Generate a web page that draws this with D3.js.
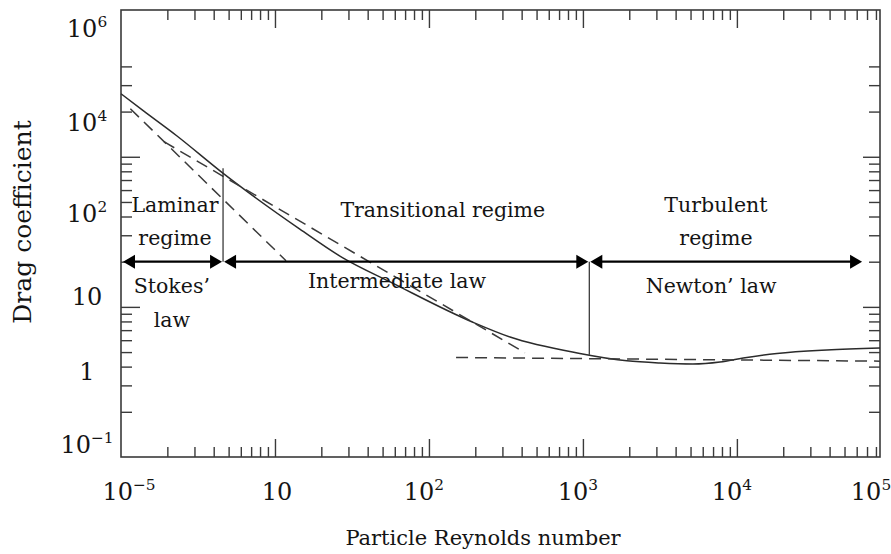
<!DOCTYPE html>
<html>
<head>
<meta charset="utf-8">
<script src="https://cdn.jsdelivr.net/npm/d3@7"></script>
<style>
  html, body { margin: 0; padding: 0; background: #fff; }
  svg { display: block; }
  text { font-family: "DejaVu Serif", serif; fill: #141414; }
</style>
</head>
<body>
<svg id="chart" width="891" height="554"></svg>
<script>
// Drag coefficient of a sphere against particle Reynolds number (log–log)

// Measured drag curve
const curveRe = [1, 1.4, 2.3, 4.5, 14.5, 27.6, 58, 193, 336, 955, 1930, 3160, 5180, 7770, 11000, 18200, 38400, 85000];
const curveCd = [26.3, 20.2, 13.8, 7.9, 3.3, 2.12, 1.44, 0.79, 0.63, 0.49, 0.437, 0.423, 0.417, 0.43, 0.457, 0.49, 0.517, 0.533];

// Asymptotic laws (dashed)
const stokesRe = [1.15, 11.8];
const stokesCd = [20.9, 2.03];
const intermediateRe = [1.9, 420];
const intermediateCd = [12.6, 0.495];
const newtonRe = [150, 85000];
const newtonCd = [0.46, 0.435];

// Regime limits and the arrows between them
const regimeBounds = [1, 4.6, 1100, 66000];
const arrowCd = 2.0;
const dividerTopCd = [8.4, 2.0];
const dividerBottomCd = [2.0, 0.48];

// Regime names (above the arrows) and law names (below)
const regimeNames = [["Laminar", "regime"], ["Transitional regime"], ["Turbulent", "regime"]];
const regimeNameRe = [2.24, 123, 7310];
const lawNames = [["Stokes\u2019", "law"], ["Intermediate law"], ["Newton\u2019 law"]];
const lawNameRe = [2.14, 62, 6800];

// Axis tick labels
const xLabelBase = ["10", "10", "10", "10", "10", "10"];
const xLabelExp = ["\u22125", "", "2", "3", "4", "5"];
const xLabelAt = [1, 10, 100, 1000, 10000, 85000];
const yLabelBase = ["10", "10", "10", "10", "1", "10"];
const yLabelExp = ["6", "4", "2", "", "", "\u22121"];
const yLabelAt = [72, 17, 4.2, 1.18, 0.374, 0.122];

const xMajor = [10, 100, 1000, 10000];
const yMajor = [1, 10];
const yMinor = [0.2, 0.3, 0.4, 0.5, 0.6, 0.7, 0.8, 0.9, 2, 3, 4, 5, 6, 7, 8, 9, 20, 30, 40];

const svg = d3.select("#chart");
const L = 121, R = 880, T = 10, B = 457;

const x = d3.scaleLog().domain([1, 85000]).range([L, R]);
const y = d3.scaleLog().domain([0.1, 95]).range([B, T]);

const xMinor = [];
for (let d = 1; d <= 10000; d *= 10) {
  for (let k = 2; k <= 9; k++) if (k * d <= 85000) xMinor.push(k * d);
}

// Inward tick marks on all four edges
function ticks(axis, values, size, tx, ty) {
  const g = svg.append("g").attr("transform", `translate(${tx},${ty})`)
    .call(axis.tickValues(values).tickSize(size).tickFormat(""));
  g.select(".domain").remove();
  g.selectAll(".tick line").attr("stroke", "#3a3a3a").attr("stroke-width", 1.4);
}
ticks(d3.axisTop(x), xMinor, 10, 0, B);
ticks(d3.axisTop(x), xMajor, 18, 0, B);
ticks(d3.axisBottom(x), xMinor, 10, 0, T);
ticks(d3.axisBottom(x), xMajor, 18, 0, T);
ticks(d3.axisRight(y), yMinor, 11, L, 0);
ticks(d3.axisRight(y), yMajor, 19, L, 0);
ticks(d3.axisLeft(y), yMinor, 11, R, 0);
ticks(d3.axisLeft(y), yMajor, 17, R, 0);

// Frame
svg.append("rect")
  .attr("x", L).attr("y", T).attr("width", R - L).attr("height", B - T)
  .attr("fill", "none").attr("stroke", "#3a3a3a").attr("stroke-width", 1.6);

// Tick labels with superscript exponents
const tickSize = 24;
function powerLabel(sel, base, exp, size) {
  sel.append("tspan").text(base);
  if (exp) {
    sel.append("tspan").attr("dy", -size * 0.42).attr("font-size", size * 0.64).text(exp);
  }
}
xLabelAt.forEach((v, i) => {
  let dx = xLabelExp[i] ? -5 : 2;
  if (i === 0) dx = 8;
  if (i === xLabelAt.length - 1) dx = -9;
  const t = svg.append("text")
    .attr("x", x(v) + dx).attr("y", 500)
    .attr("text-anchor", "middle").attr("font-size", tickSize);
  powerLabel(t, xLabelBase[i], xLabelExp[i], tickSize);
});
yLabelAt.forEach((v, i) => {
  const t = svg.append("text")
    .attr("x", 87).attr("y", y(v) + 9)
    .attr("text-anchor", "middle").attr("font-size", tickSize);
  powerLabel(t, yLabelBase[i], yLabelExp[i], tickSize);
});

// Axis titles
svg.append("text")
  .attr("x", 483).attr("y", 545)
  .attr("text-anchor", "middle").attr("font-size", 21)
  .text("Particle Reynolds number");
svg.append("text")
  .attr("transform", "translate(31,222) rotate(-90)")
  .attr("text-anchor", "middle").attr("font-size", 25)
  .text("Drag coefficient");

// Curves
const zip = (a, b) => a.map((v, i) => [v, b[i]]);

svg.append("path")
  .datum(zip(curveRe, curveCd))
  .attr("d", d3.line().x(d => x(d[0])).y(d => y(d[1])).curve(d3.curveMonotoneX))
  .attr("fill", "none").attr("stroke", "#2b2b2b").attr("stroke-width", 1.5);

const straight = d3.line().x(d => x(d[0])).y(d => y(d[1]));
[[stokesRe, stokesCd], [intermediateRe, intermediateCd], [newtonRe, newtonCd]].forEach(([re, cd]) => {
  svg.append("path")
    .datum(zip(re, cd))
    .attr("d", straight)
    .attr("fill", "none").attr("stroke", "#3a3a3a").attr("stroke-width", 1.5)
    .attr("stroke-dasharray", "12,7");
});

// Regime dividers
[1, 2].forEach((b, i) => {
  svg.append("line")
    .attr("x1", x(regimeBounds[b])).attr("x2", x(regimeBounds[b]))
    .attr("y1", y(dividerTopCd[i])).attr("y2", y(dividerBottomCd[i]))
    .attr("stroke", "#2b2b2b").attr("stroke-width", 1.2);
});

// Double-headed regime arrows
const ay = y(arrowCd);
const headLen = 12, headHalf = 7;
for (let i = 0; i < regimeBounds.length - 1; i++) {
  const x0 = x(regimeBounds[i]) + (i === 0 ? 2 : 1);
  const x1 = x(regimeBounds[i + 1]) - 1;
  svg.append("line")
    .attr("x1", x0 + headLen - 2).attr("x2", x1 - headLen + 2)
    .attr("y1", ay).attr("y2", ay)
    .attr("stroke", "#000").attr("stroke-width", 2.2);
  svg.append("path")
    .attr("d", `M${x0},${ay}L${x0 + headLen},${ay - headHalf}L${x0 + headLen},${ay + headHalf}Z`)
    .attr("fill", "#000");
  svg.append("path")
    .attr("d", `M${x1},${ay}L${x1 - headLen},${ay - headHalf}L${x1 - headLen},${ay + headHalf}Z`)
    .attr("fill", "#000");
}

// Regime and law names
const annSize = 20.5;
regimeNames.forEach((lines, i) => {
  const yb = lines.length === 2 ? [ay - 50, ay - 17] : [ay - 45];
  lines.forEach((s, j) => {
    svg.append("text")
      .attr("x", x(regimeNameRe[i])).attr("y", yb[j])
      .attr("text-anchor", "middle").attr("font-size", annSize).text(s);
  });
});
lawNames.forEach((lines, i) => {
  const yb = lines.length === 2 ? [ay + 31, ay + 65] : [ay + (i === 1 ? 26 : 31)];
  lines.forEach((s, j) => {
    svg.append("text")
      .attr("x", x(lawNameRe[i])).attr("y", yb[j])
      .attr("text-anchor", "middle").attr("font-size", annSize).text(s);
  });
});
</script>
</body>
</html>
